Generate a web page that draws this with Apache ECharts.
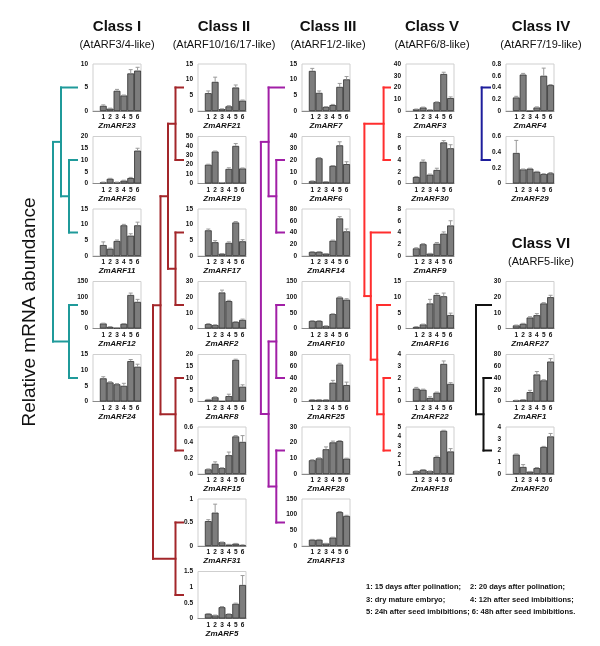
<!DOCTYPE html>
<html>
<head>
<meta charset="utf-8">
<script src="https://cdn.jsdelivr.net/npm/echarts@6/dist/echarts.min.js"></script>
<style>
html, body { margin: 0; padding: 0; background: #fff; }
#main { width: 600px; height: 646px; }
</style>
</head>
<body>
<div id="main"></div>
<script>
// developmental stages (x categories)
var stages = ['1', '2', '3', '4', '5', '6'];

var genes = [
    'ZmARF23', 'ZmARF26', 'ZmARF11', 'ZmARF12', 'ZmARF24',
    'ZmARF21', 'ZmARF19', 'ZmARF17', 'ZmARF2', 'ZmARF8', 'ZmARF15', 'ZmARF31', 'ZmARF5',
    'ZmARF7', 'ZmARF6', 'ZmARF14', 'ZmARF10', 'ZmARF25', 'ZmARF28', 'ZmARF13',
    'ZmARF3', 'ZmARF30', 'ZmARF9', 'ZmARF16', 'ZmARF22', 'ZmARF18',
    'ZmARF4', 'ZmARF29',
    'ZmARF27', 'ZmARF1', 'ZmARF20'
];

// relative mRNA abundance, one row per gene
var expr = [
    [1.1, 0.5, 4.3, 3.3, 8.0, 8.6],
    [0.5, 2.0, 0.5, 1.2, 2.3, 14],
    [3.5, 2.3, 4.8, 9.8, 6.5, 9.8],
    [16, 5, 2, 15, 107, 85],
    [7.4, 6.1, 5.5, 5.0, 12.9, 11.1],
    [5.7, 9.3, 0.6, 1.5, 7.5, 3.3],
    [20, 34, 1, 15.5, 40, 16],
    [8.2, 4.4, 0.7, 4.2, 10.7, 4.7],
    [2.8, 2.2, 23, 17.5, 4.2, 5.5],
    [0.8, 1.8, 0.2, 2.3, 17.7, 6.3],
    [0.06, 0.13, 0.075, 0.24, 0.48, 0.41],
    [0.53, 0.71, 0.08, 0.03, 0.05, 0.02],
    [0.15, 0.1, 0.36, 0.14, 0.47, 1.07],
    [12.8, 5.8, 1.3, 1.9, 7.7, 10.1],
    [2, 21.5, 1.5, 15, 32.5, 16.5],
    [7, 7, 4, 26, 64, 42],
    [24, 24, 8, 46, 99, 92],
    [3, 3, 3, 32, 63, 28],
    [8.8, 10, 15.8, 20.2, 21, 9.8],
    [20, 20, 8, 27, 108, 96],
    [1.5, 3, 1, 7.5, 31.5, 11],
    [1.1, 3.7, 1.5, 2.3, 7.0, 6.0],
    [1.3, 2.0, 0.4, 2.1, 3.8, 5.2],
    [0.5, 1.3, 8, 10.7, 10.3, 4.3],
    [1.1, 1.0, 0.3, 0.75, 3.2, 1.5],
    [0.3, 0.45, 0.3, 1.8, 4.6, 2.4],
    [0.23, 0.62, 0, 0.06, 0.6, 0.44],
    [0.39, 0.18, 0.19, 0.15, 0.12, 0.13],
    [2, 3, 7, 8.5, 16, 20],
    [2, 3, 16, 46, 36, 68],
    [1.65, 0.6, 0.2, 0.5, 2.3, 3.2]
];

// standard errors (upper bars only)
var errs = [
    [0.2, 0.1, 0.3, 0.1, 0.8, 0.7],
    [0.1, 0.2, 0.1, 0.2, 0.3, 1.0],
    [1.0, 0.2, 0.3, 0.3, 0.6, 1.0],
    [1, 1, 0.5, 1, 6, 8],
    [0.5, 0.2, 0.2, 0.8, 0.5, 0.8],
    [0.7, 1.5, 0.1, 0.2, 0.8, 0.2],
    [0.5, 0.5, 0.1, 1.2, 2.5, 0.5],
    [0.4, 0.5, 0.1, 0.3, 0.3, 0.5],
    [0.3, 0.2, 1.5, 0.5, 0.2, 0.5],
    [0.1, 0.2, 0, 0.8, 0.3, 0.8],
    [0.005, 0.025, 0.005, 0.04, 0.01, 0.08],
    [0.03, 0.18, 0.005, 0.005, 0.005, 0.005],
    [0.01, 0.01, 0.02, 0.01, 0.02, 0.3],
    [0.8, 0.6, 0.1, 0.2, 1.1, 0.9],
    [0.2, 0.5, 0.2, 0.3, 3, 2],
    [0.5, 0.5, 0.2, 1, 3, 4],
    [1, 1, 0.5, 1, 2, 3],
    [0.3, 0.3, 0.3, 4, 2, 5],
    [0.3, 0.3, 1.5, 0.8, 0.3, 0.3],
    [1, 1, 0.5, 1, 2, 2],
    [0.2, 0.3, 0.1, 0.3, 1.5, 1],
    [0.1, 0.3, 0.1, 0.3, 0.3, 0.6],
    [0.1, 0.1, 0.05, 0.2, 0.3, 0.8],
    [0.1, 0.1, 1.3, 0.5, 1.0, 0.6],
    [0.1, 0.05, 0.1, 0.05, 0.25, 0.1],
    [0.02, 0.03, 0.02, 0.1, 0.05, 0.3],
    [0.02, 0.02, 0, 0.01, 0.13, 0.01],
    [0.16, 0.005, 0.005, 0.005, 0.005, 0.01],
    [0.2, 0.3, 0.5, 1, 0.5, 1.2],
    [0.2, 0.3, 3, 5, 1, 5],
    [0.05, 0.2, 0.02, 0.05, 0.05, 0.25]
];

// y axis tick labels: top value and step
var yMax = [10, 20, 15, 150, 15, 15, 50, 15, 30, 20, 0.6, 1, 1.5, 15, 40, 80, 150, 80, 30, 150, 40, 8, 8, 15, 4, 5, 0.8, 0.6, 30, 80, 4];
var yStep = [5, 5, 5, 50, 5, 5, 10, 5, 10, 5, 0.2, 0.5, 0.5, 5, 10, 20, 50, 20, 10, 50, 10, 2, 2, 5, 1, 1, 0.2, 0.2, 10, 20, 1];

var classNames = ['Class I', 'Class II', 'Class III', 'Class V', 'Class IV', 'Class VI'];
var classSubs = ['(AtARF3/4-like)', '(AtARF10/16/17-like)', '(AtARF1/2-like)', '(AtARF6/8-like)', '(AtARF7/19-like)', '(AtARF5-like)'];

// clustering per class
var trees = [
    [['ZmARF23', ['ZmARF26', 'ZmARF11']], ['ZmARF12', 'ZmARF24']],
    [[[['ZmARF21', 'ZmARF19'], ['ZmARF17', 'ZmARF2']], ['ZmARF8', 'ZmARF15']], ['ZmARF31', 'ZmARF5']],
    [['ZmARF7', ['ZmARF6', 'ZmARF14']], [['ZmARF10', 'ZmARF25'], ['ZmARF28', 'ZmARF13']]],
    [['ZmARF3', 'ZmARF30'], ['ZmARF9', ['ZmARF16', ['ZmARF22', 'ZmARF18']]]],
    ['ZmARF4', 'ZmARF29'],
    ['ZmARF27', ['ZmARF1', 'ZmARF20']]
];

var legendLines = [
    ['1: 15 days after polination;', '2: 20 days after polination;'],
    ['3: dry mature embryo;', '4: 12h after seed imbibitions;'],
    ['5: 24h after seed imbibitions; 6: 48h after seed imbibitions.', '']
];

// ---- layout ----
var classCol = [0, 0, 0, 0, 0, 1, 1, 1, 1, 1, 1, 1, 1, 2, 2, 2, 2, 2, 2, 2, 3, 3, 3, 3, 3, 3, 4, 4, 4, 4, 4];
var rowIdx = [0, 1, 2, 3, 4, 0, 1, 2, 3, 4, 5, 6, 7, 0, 1, 2, 3, 4, 5, 6, 0, 1, 2, 3, 4, 5, 0, 1, 3, 4, 5];
var colLeft = [93, 198, 302, 406, 506];
var rowTop = [64, 136.5, 209, 281.5, 354.5, 427, 499, 571.5];
var plotW = 48, plotH = 47;
var titleX = [117, 224, 328, 432, 541, 541];
var titleY = [27, 27, 27, 27, 27, 244];
var treeColors = ['#1f9a9a', '#a3262a', '#a11fa6', '#ff2e2e', '#1e1e9c', '#111111'];
var leafEnd = [77, 183, 284, 390, 490, 491];
var treeStep = [8, 7.5, 7.7, 6.4, 8.3, 7.5];

var fontFam = '"Liberation Sans", Arial, sans-serif';

var grids = [], xAxes = [], yAxes = [], series = [];
var leafY = {};

genes.forEach(function (g, i) {
    var left = colLeft[classCol[i]];
    var top = rowTop[rowIdx[i]];
    leafY[g] = top + plotH / 2;
    grids.push({
        left: left, top: top, width: plotW, height: plotH,
        show: true, borderColor: '#cfcfcf', borderWidth: 1, backgroundColor: 'transparent'
    });
    xAxes.push({
        type: 'category', gridIndex: i,
        data: [''].concat(stages),
        name: g, nameLocation: 'middle', nameGap: 10,
        nameTextStyle: { fontFamily: fontFam, fontSize: 8, fontWeight: 'bold', fontStyle: 'italic', color: '#111', verticalAlign: 'top' },
        axisLine: { lineStyle: { color: '#8a8a8a', width: 1 } },
        axisTick: { show: false },
        axisLabel: { interval: 0, margin: 3, fontFamily: fontFam, fontSize: 6.5, fontWeight: 'bold', color: '#111' }
    });
    yAxes.push({
        type: 'value', gridIndex: i, min: 0, max: yMax[i], interval: yStep[i],
        axisLine: { show: false }, axisTick: { show: false }, splitLine: { show: false },
        axisLabel: { margin: 5, fontFamily: fontFam, fontSize: 6.5, fontWeight: 'bold', color: '#111' }
    });
    series.push({
        type: 'bar', xAxisIndex: i, yAxisIndex: i,
        data: [null].concat(expr[i]),
        barCategoryGap: '0%',
        itemStyle: { color: '#7d7d7d', borderColor: '#2e2e2e', borderWidth: 0.8 },
        silent: true
    });
    series.push({
        type: 'custom', xAxisIndex: i, yAxisIndex: i, z: 3, silent: true,
        data: expr[i].map(function (v, k) { return [k + 1, v, errs[i][k]]; }),
        encode: { x: 0, y: 1 },
        renderItem: function (params, api) {
            var x = api.value(0), v = api.value(1), e = api.value(2);
            if (!e) return null;
            var p0 = api.coord([x, v]);
            var p1 = api.coord([x, v + e]);
            var st = { stroke: '#9a9a9a', lineWidth: 1 };
            return {
                type: 'group', children: [
                    { type: 'line', shape: { x1: p0[0], y1: p0[1], x2: p1[0], y2: p1[1] }, style: st },
                    { type: 'line', shape: { x1: p1[0] - 2, y1: p1[1], x2: p1[0] + 2, y2: p1[1] }, style: st }
                ]
            };
        }
    });
});

// dendrograms
var graphics = [];
function seg(x1, y1, x2, y2, color) {
    graphics.push({
        type: 'line', silent: true,
        shape: { x1: x1, y1: y1, x2: x2, y2: y2 },
        style: { stroke: color, lineWidth: 2, lineCap: 'square' }
    });
}
function drawTree(node, c) {
    if (typeof node === 'string') return { y: leafY[node], h: 0 };
    var a = drawTree(node[0], c), b = drawTree(node[1], c);
    var h = Math.max(a.h, b.h) + 1;
    var x = leafEnd[c] - h * treeStep[c];
    seg(x, a.y, x, b.y, treeColors[c]);
    [a, b].forEach(function (ch) {
        var xe = ch.h === 0 ? leafEnd[c] : leafEnd[c] - ch.h * treeStep[c];
        seg(x, ch.y, xe, ch.y, treeColors[c]);
    });
    return { y: (a.y + b.y) / 2, h: h };
}
trees.forEach(function (t, c) { drawTree(t, c); });

// class titles
classNames.forEach(function (n, c) {
    graphics.push({
        type: 'text', silent: true, x: titleX[c], y: titleY[c],
        style: { text: n, fontFamily: fontFam, fontSize: 15, fontWeight: 'bold', fill: '#111', align: 'center', verticalAlign: 'middle' }
    });
    graphics.push({
        type: 'text', silent: true, x: titleX[c], y: titleY[c] + 18,
        style: { text: classSubs[c], fontFamily: fontFam, fontSize: 11, fill: '#111', align: 'center', verticalAlign: 'middle' }
    });
});

// y axis caption
graphics.push({
    type: 'text', silent: true, x: 30, y: 312, rotation: Math.PI / 2,
    style: { text: 'Relative mRNA abundance', fontFamily: fontFam, fontSize: 19, fill: '#111', align: 'center', verticalAlign: 'middle' }
});

// stage legend
legendLines.forEach(function (pair, r) {
    pair.forEach(function (s, k) {
        if (!s) return;
        graphics.push({
            type: 'text', silent: true, x: k === 0 ? 366 : 470, y: 587 + r * 12.5,
            style: { text: s, fontFamily: fontFam, fontSize: 7.5, fontWeight: 'bold', fill: '#111', align: 'left', verticalAlign: 'middle' }
        });
    });
});

var option = {
    animation: false,
    backgroundColor: '#fff',
    grid: grids,
    xAxis: xAxes,
    yAxis: yAxes,
    series: series,
    graphic: graphics
};
var myChart = echarts.init(document.getElementById('main'));
myChart.setOption(option);
</script>
</body>
</html>
